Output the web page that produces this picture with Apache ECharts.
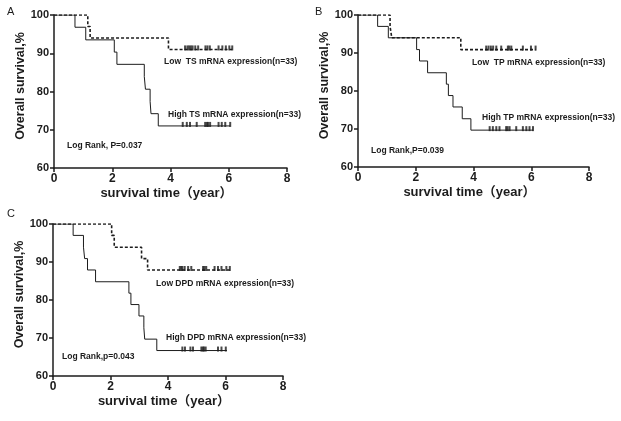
<!DOCTYPE html>
<html><head><meta charset="utf-8">
<script src="https://cdn.jsdelivr.net/npm/echarts@6/dist/echarts.min.js"></script>
<style>html,body{margin:0;padding:0;background:#fff}#c{width:621px;height:421px}</style>
</head><body><div id="c"></div>
<script>
// ---- Data (survival time in years, overall survival %) ----
const xTicks = [0, 2, 4, 6, 8];
const yTicks = [60, 70, 80, 90, 100];

// Panel A: TS
const lowTS_time  = [0, 1.16, 1.24, 3.93, 6.12];
const lowTS_surv  = [100, 97.0, 94.0, 91.0, 91.0];
const highTS_time = [0, 0.72, 1.09, 2.07, 2.16, 3.10, 3.14, 3.30, 3.33, 3.58, 6.05];
const highTS_surv = [100, 96.8, 93.5, 90.3, 87.1, 83.9, 80.6, 77.4, 74.2, 71.0, 71.0];
const lowTS_cens  = [4.50, 4.58, 4.64, 4.70, 4.76, 4.85, 4.95, 5.20, 5.27, 5.35, 5.65, 5.78, 5.90, 6.02, 6.12];
const highTS_cens = [4.42, 4.56, 4.67, 4.90, 5.19, 5.25, 5.29, 5.36, 5.65, 5.76, 5.88, 6.05];

// Panel B: TP
const lowTP_time  = [0, 1.11, 1.17, 3.56, 6.15];
const lowTP_surv  = [100, 97.0, 94.0, 90.9, 90.9];
const highTP_time = [0, 0.68, 1.05, 2.03, 2.13, 2.41, 3.06, 3.13, 3.29, 3.61, 3.91, 6.06];
const highTP_surv = [100, 97.0, 94.0, 90.9, 87.9, 84.8, 81.8, 78.8, 75.8, 72.7, 69.7, 69.7];
const lowTP_cens  = [4.44, 4.52, 4.60, 4.68, 4.79, 4.96, 5.19, 5.24, 5.31, 5.71, 5.99, 6.15];
const highTP_cens = [4.56, 4.67, 4.79, 4.90, 5.13, 5.18, 5.25, 5.48, 5.71, 5.83, 5.94, 6.06];

// Panel C: DPD
const lowDPD_time  = [0, 2.04, 2.13, 3.08, 3.29, 6.15];
const lowDPD_surv  = [100, 97.0, 93.9, 90.9, 87.9, 87.9];
const highDPD_time = [0, 0.70, 1.06, 1.10, 1.20, 1.48, 2.64, 2.71, 2.99, 3.16, 3.19, 3.61, 6.05];
const highDPD_surv = [100, 97.0, 93.9, 90.9, 87.9, 84.8, 81.8, 78.8, 75.8, 72.7, 69.7, 66.7, 66.7];
const lowDPD_cens  = [4.41, 4.46, 4.50, 4.58, 4.70, 4.81, 5.22, 5.27, 5.33, 5.62, 5.74, 5.86, 6.03, 6.15];
const highDPD_cens = [4.50, 4.59, 4.78, 4.87, 5.16, 5.21, 5.25, 5.31, 5.74, 5.86, 6.01];

const panelLetters = ['A', 'B', 'C'];
const lowLabels  = ['Low  TS mRNA expression(n=33)', 'Low  TP mRNA expression(n=33)', 'Low DPD mRNA expression(n=33)'];
const highLabels = ['High TS mRNA expression(n=33)', 'High TP mRNA expression(n=33)', 'High DPD mRNA expression(n=33)'];
const pLabels    = ['Log Rank, P=0.037', 'Log Rank,P=0.039', 'Log Rank,p=0.043'];

// ---- Build ----
const FONT = 'Liberation Sans, Arial, Noto Sans CJK SC, sans-serif';
const INK = '#1c1c1c';
const grids = [
  {left: 54, top: 15, width: 233, height: 153},
  {left: 358, top: 15, width: 231, height: 152},
  {left: 53, top: 224, width: 230, height: 152}
];
const panels = [
  [lowTS_time, lowTS_surv, highTS_time, highTS_surv, lowTS_cens, highTS_cens],
  [lowTP_time, lowTP_surv, highTP_time, highTP_surv, lowTP_cens, highTP_cens],
  [lowDPD_time, lowDPD_surv, highDPD_time, highDPD_surv, lowDPD_cens, highDPD_cens]
];
const zip = (a, b) => a.map((v, i) => [v, b[i]]);
const axisCommon = {
  axisLine: {show: true, onZero: false, lineStyle: {color: INK, width: 1.5}},
  axisTick: {show: true, inside: false, length: 4, lineStyle: {color: INK, width: 1.5}},
  splitLine: {show: false}
};
const xAxis = [], yAxis = [], series = [];
panels.forEach((p, i) => {
  xAxis.push(Object.assign({}, axisCommon, {
    type: 'value', gridIndex: i, min: xTicks[0], max: xTicks[xTicks.length - 1], interval: xTicks[1] - xTicks[0],
    axisLabel: {color: INK, fontFamily: FONT, fontWeight: 'bold', fontSize: 12, margin: 5},
    name: 'survival time（year）', nameLocation: 'middle', nameGap: 19,
    nameTextStyle: {color: INK, fontFamily: FONT, fontWeight: 'bold', fontSize: 13, padding: [0, 8, 0, 0]}
  }));
  yAxis.push(Object.assign({}, axisCommon, {
    type: 'value', gridIndex: i, min: yTicks[0], max: yTicks[yTicks.length - 1], interval: yTicks[1] - yTicks[0],
    axisLabel: {color: INK, fontFamily: FONT, fontWeight: 'bold', fontSize: 11, margin: 5},
    name: 'Overall survival,%', nameLocation: 'middle', nameGap: 26,
    nameTextStyle: {color: INK, fontFamily: FONT, fontWeight: 'bold', fontSize: 12.5, padding: [0, 0, 0, 11]}
  }));
  const [lt, ls, ht, hs, lc, hc] = p;
  series.push({
    type: 'line', xAxisIndex: i, yAxisIndex: i, step: 'end', showSymbol: false, silent: true,
    data: zip(lt, ls), lineStyle: {color: INK, width: 1.6, type: [3, 2]}
  });
  series.push({
    type: 'line', xAxisIndex: i, yAxisIndex: i, step: 'end', showSymbol: false, silent: true,
    data: zip(ht, hs), lineStyle: {color: INK, width: 1}
  });
  const lowEnd = ls[ls.length - 1], highEnd = hs[hs.length - 1];
  series.push({
    type: 'scatter', xAxisIndex: i, yAxisIndex: i, silent: true,
    symbol: 'rect', symbolSize: [2, 5], symbolOffset: [0, -1.5],
    itemStyle: {color: INK}, data: lc.map(t => [t, lowEnd])
  });
  series.push({
    type: 'scatter', xAxisIndex: i, yAxisIndex: i, silent: true,
    symbol: 'rect', symbolSize: [2, 5], symbolOffset: [0, -1.5],
    itemStyle: {color: INK}, data: hc.map(t => [t, highEnd])
  });
});

const txt = (text, x, y, font) => ({type: 'text', x: x, y: y, silent: true,
  style: {text: text, fill: INK, font: font, verticalAlign: 'middle', align: 'left'}});
const annFont = 'bold 8.5px ' + FONT;
const graphic = [
  txt(panelLetters[0], 7, 12, '11px ' + FONT),
  txt(panelLetters[1], 315, 12, '11px ' + FONT),
  txt(panelLetters[2], 7, 214, '11px ' + FONT),
  txt(lowLabels[0], 164, 62, annFont),
  txt(highLabels[0], 168, 115, annFont),
  txt(pLabels[0], 67, 146, annFont),
  txt(lowLabels[1], 472, 63, annFont),
  txt(highLabels[1], 482, 118, annFont),
  txt(pLabels[1], 371, 151, annFont),
  txt(lowLabels[2], 156, 284, annFont),
  txt(highLabels[2], 166, 338, annFont),
  txt(pLabels[2], 62, 357, annFont)
];

const chart = echarts.init(document.getElementById('c'), null, {renderer: 'canvas'});
chart.setOption({
  backgroundColor: '#fff', animation: false,
  grid: grids, xAxis: xAxis, yAxis: yAxis, series: series, graphic: graphic
});
</script></body></html>
